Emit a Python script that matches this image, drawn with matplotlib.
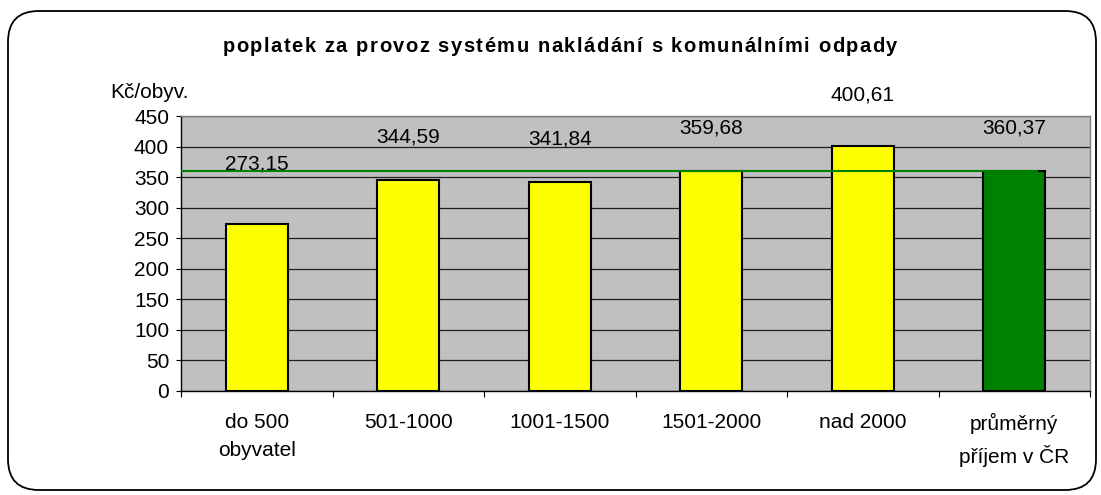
import matplotlib
matplotlib.use("Agg")
import matplotlib.pyplot as plt
from matplotlib.patches import FancyBboxPatch
import numpy as np

plt.rcParams['font.family'] = ['Liberation Sans', 'DejaVu Sans']

categories = ["do 500\nobyvatel", "501-1000", "1001-1500", "1501-2000", "nad 2000", "průměrný\npříjem v ČR"]
values = [273.15, 344.59, 341.84, 359.68, 400.61, 360.37]
value_labels = ["273,15", "344,59", "341,84", "359,68", "400,61", "360,37"]
average = 360.37
yticks = [0, 50, 100, 150, 200, 250, 300, 350, 400, 450]
title = "poplatek za provoz systému nakládání s komunálními odpady"
ylabel = "Kč/obyv."

colors = ["#FFFF00"] * 5 + ["#008000"]
label_offsets_px = [60, 43, 43, 43, 51, 43]

W, H = 1101, 495
fig = plt.figure(figsize=(W / 100, H / 100), dpi=100)

# rounded border
border = FancyBboxPatch((8 / W, 5 / H), (1088 / W), (479 / H),
                        boxstyle="round,pad=0,rounding_size=0.028",
                        transform=fig.transFigure, facecolor="white",
                        edgecolor="black", linewidth=1.3, mutation_aspect=W / H,
                        zorder=-1)
fig.patches.append(border)

left, right, top, bottom = 181, 1090, 116, 391
ax = fig.add_axes([left / W, 1 - bottom / H, (right - left) / W, (bottom - top) / H])
ax.set_facecolor("#C0C0C0")

x = np.arange(len(categories))
ax.bar(x, values, width=0.41, color=colors, edgecolor="black", linewidth=1.5, zorder=3)
ax.plot([-0.5, 5.15], [average, average], color="#008000", linewidth=1.5, zorder=4)

FS = 15
for xi, v, lab, off in zip(x, values, value_labels, label_offsets_px):
    ax.annotate(lab, (xi, v), xytext=(0, off), textcoords="offset pixels",
                ha="center", va="center", fontsize=FS, color="black",
                annotation_clip=False)

ax.set_xlim(-0.5, len(categories) - 0.5)
ax.set_ylim(0, 450)
ax.set_yticks(yticks)
ax.set_yticklabels([str(t) for t in yticks], fontsize=FS)
ax.yaxis.grid(True, color="#202020", linewidth=0.9, zorder=1)
ax.set_axisbelow(True)

ax.set_xticks(np.arange(-0.5, len(categories), 1.0))
ax.set_xticklabels([])
ax.set_xticks(x, minor=True)
ax.set_xticklabels(categories, minor=True, fontsize=FS, linespacing=1.6)
ax.tick_params(axis="x", which="minor", length=0, pad=16)
ax.tick_params(axis="x", which="major", length=4.3, direction="out", color="black")
ax.tick_params(axis="y", length=3.6, direction="out", color="black", pad=5)

ax.spines["left"].set_color("black")
ax.spines["bottom"].set_color("black")
ax.spines["top"].set_color("#808080")
ax.spines["right"].set_color("#808080")
for s in ax.spines.values():
    s.set_linewidth(1.0)

# letter-spaced bold title
renderer = fig.canvas.get_renderer()
tfs = 14.5
def _w(s):
    t = fig.text(0, 0, s + "l", fontsize=tfs, fontweight="bold")
    w = t.get_window_extent(renderer).width
    t.remove()
    return w
wl = _w("")
adv = [_w(title[:i]) - wl for i in range(len(title) + 1)]
target_width = 675
spacing = max(0.0, (target_width - adv[-1]) / (len(title) - 1))
total = adv[-1] + spacing * (len(title) - 1)
x0 = 560 - total / 2
for i, ch in enumerate(title):
    if ch == " ":
        continue
    fig.text((x0 + adv[i] + i * spacing) / W, 1 - 44 / H, ch, ha="left", va="center_baseline",
             fontsize=tfs, fontweight="bold")

fig.text(110 / W, 1 - 92 / H, ylabel, ha="left", va="center", fontsize=FS)

fig.savefig("out.png", dpi=100)
